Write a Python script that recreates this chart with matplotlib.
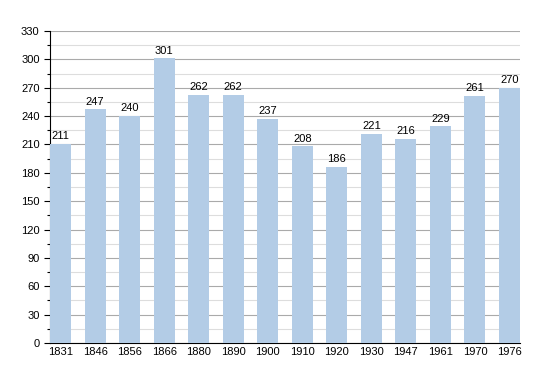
import matplotlib
matplotlib.use("Agg")
import matplotlib.pyplot as plt
import numpy as np

plt.rcParams["font.family"] = ["Liberation Sans", "DejaVu Sans"]

years = ["1831", "1846", "1856", "1866", "1880", "1890", "1900",
         "1910", "1920", "1930", "1947", "1961", "1970", "1976"]
pop = [211, 247, 240, 301, 262, 262, 237, 208, 186, 221, 216, 229, 261, 270]

fig = plt.figure(figsize=(5.5, 3.73), dpi=100)
ax = fig.add_axes([50/550, 30/373, 470/550, 312/373])

x = np.arange(len(years))
ax.bar(x, pop, width=0.61, color="#b3cce6", zorder=3)
for xi, v in zip(x, pop):
    ax.text(xi, v + 3, str(v), ha="center", va="bottom", fontsize=8, zorder=4)

ax.set_xlim(-0.305, len(years) - 1 + 0.305)
ax.set_ylim(0, 330)
ax.set_yticks(np.arange(0, 331, 30))
ax.set_yticks(np.arange(15, 330, 30), minor=True)
ax.set_xticks(x)
ax.set_xticklabels(years)
ax.tick_params(axis="both", labelsize=8, length=4, width=0.8)
ax.tick_params(axis="x", length=0, pad=3)
ax.tick_params(axis="y", which="minor", length=2.5, width=0.8)
ax.grid(axis="y", which="major", color="#aaaaaa", linewidth=0.8, zorder=0)
ax.grid(axis="y", which="minor", color="#dddddd", linewidth=0.8, zorder=0)
for s in ["top", "right"]:
    ax.spines[s].set_visible(False)

fig.savefig("out.png", dpi=100)
